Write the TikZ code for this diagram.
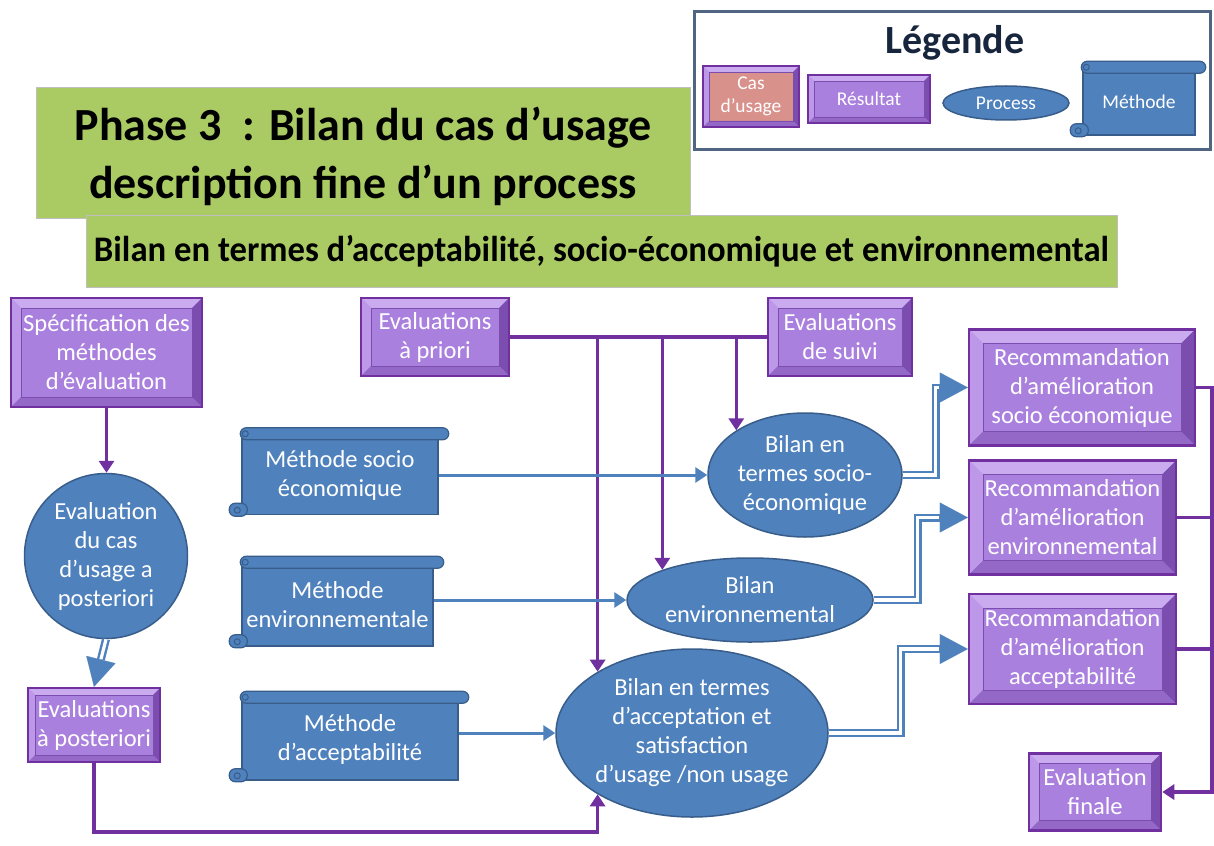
\documentclass[tikz,border=0pt]{standalone}
\usepackage{fontspec}
\setmainfont{Carlito}
\usepackage{graphicx}
\usetikzlibrary{arrows.meta,calc,shapes.geometric}

\definecolor{purpD}{HTML}{7030A0}
\definecolor{purpF}{HTML}{AA80DE}
\definecolor{purpT}{HTML}{CBABEF}
\definecolor{purpL}{HTML}{BD98E8}
\definecolor{purpR}{HTML}{7B4DAF}
\definecolor{purpB}{HTML}{9468C6}
\definecolor{salmonF}{HTML}{D9918C}
\definecolor{blueF}{HTML}{4F81BD}
\definecolor{blueD}{HTML}{385D8A}
\definecolor{greenF}{HTML}{AACB63}
\definecolor{legBorder}{HTML}{4F6581}
\definecolor{navy}{HTML}{17263D}

\newcommand\bodyfont{\fontsize{24.5}{29}\selectfont}
\newcommand\legfont{\fontsize{19.5}{23}\selectfont}

% rolled ends of a "method" scroll
\newcommand\scrollparts[1]{%
  \draw[scrollroll] ($(#1.north west)+(-1,-7)$) rectangle ($(#1.north east)+(10,5)$);
  \draw[blueD, line width=1pt] ($(#1.north west)+(4,-1)$) circle[radius=3];
  \draw[scrollroll] ($(#1.south west)+(-12,-12)$) rectangle ($(#1.south west)+(6,1)$);
  \draw[blueD, line width=1pt] ($(#1.south west)+(-4,-5)$) circle[radius=3];
}

\tikzset{
  bev/.code={\def\bevw{#1}},
  resbox/.style={rectangle, draw=purpD, line width=2.5pt, fill=purpF,
    text=white, align=center, font=\bodyfont, inner sep=0pt, bev=10,
    path picture={
      \coordinate (bNW) at (path picture bounding box.north west);
      \coordinate (bSE) at (path picture bounding box.south east);
      \coordinate (bNE) at (bSE|-bNW);
      \coordinate (bSW) at (bNW|-bSE);
      \fill[purpT] (bNW) -- (bNE) -- ($(bNE)+(-\bevw,\bevw)$) -- ($(bNW)+(\bevw,\bevw)$) -- cycle;
      \fill[purpL] (bNW) -- ($(bNW)+(\bevw,\bevw)$) -- ($(bSW)+(\bevw,-\bevw)$) -- (bSW) -- cycle;
      \fill[purpR] (bNE) -- ($(bNE)+(-\bevw,\bevw)$) -- ($(bSE)+(-\bevw,-\bevw)$) -- (bSE) -- cycle;
      \fill[purpB] (bSW) -- ($(bSW)+(\bevw,-\bevw)$) -- ($(bSE)+(-\bevw,-\bevw)$) -- (bSE) -- cycle;
      \draw[purpR, line width=0.8pt] ($(bNW)+(\bevw,\bevw)$) rectangle ($(bSE)+(-\bevw,-\bevw)$);
    }},
  proc/.style={ellipse, fill=blueF, draw=blueD, line width=1.5pt, inner sep=0pt},
  ptext/.style={text=white, align=center, font=\bodyfont},
  method/.style={rectangle, fill=blueF, draw=blueD, line width=1.5pt,
    text=white, align=center, font=\bodyfont, inner sep=0pt},
  scrollroll/.style={fill=blueF, draw=blueD, line width=1.2pt, rounded corners=6pt},
  greenbox/.style={rectangle, fill=greenF, draw=black!25, line width=1pt, inner sep=0pt},
  purpln/.style={draw=purpD, line width=3.5pt},
  purparr/.style={purpln, -{Triangle[length=12pt,width=15pt]}},
  bluearr/.style={draw=blueF, line width=3pt, -{Triangle[length=12pt,width=15pt]}},
  dblout/.style={draw=blueF, line width=8pt, -{Triangle[length=28pt,width=30pt,line width=0.1pt]}},
  dblin/.style={draw=white, line width=3.2pt, shorten >=28.5pt},
}

\begin{document}
\begin{tikzpicture}[x=1pt, y=-1pt]
\fill[white] (0,0) rectangle (1214,845);
\useasboundingbox (0,0) rectangle (1214,845);

% ---- headings
\node[greenbox, minimum width=654, minimum height=130] (ttl) at (363,153) {};
\node[align=center, font=\bfseries\fontsize{46}{58}\selectfont] (ttltxt) at (363,156)
  {Phase 3~ : Bilan du cas d’usage\\description fine d’un process};
\node[greenbox, minimum width=1031, minimum height=72, font=\bfseries\fontsize{36}{40}\selectfont] (sub) at (601.5,251)
  {\resizebox{1015pt}{\height}{Bilan en termes d’acceptabilité, socio-économique et environnemental}};

% ---- legend
\node[draw=legBorder, line width=3pt, minimum width=516, minimum height=138, inner sep=0pt] (legbox) at (952.5,80.5) {};
\node[font=\bfseries\fontsize{40}{48}\selectfont, text=navy] (legt) at (955,43) {Légende};
\node[resbox, fill=salmonF, bev=6, minimum width=96, minimum height=61, font=\legfont] (lcas) at (751,96.5) {Cas\\d’usage};
\node[resbox, bev=6, minimum width=122, minimum height=48, font=\legfont] (lres) at (869,99) {Résultat};
\node[proc, minimum width=126, minimum height=34, label={[ptext, font=\legfont]center:Process}] (lproc) at (1006,103) {};
\node[method, minimum width=112, minimum height=66, font=\legfont] (lmeth) at (1139,102) {Méthode};
\scrollparts{lmeth}

% ---- results
\node[resbox, minimum width=191, minimum height=109] (spec) at (106.5,352.5) {Spécification des\\méthodes\\d’évaluation};
\node[resbox, minimum width=148, minimum height=78] (apri) at (435,337) {Evaluations\\à priori};
\node[resbox, minimum width=144, minimum height=78] (suiv) at (840,337) {Evaluations\\de suivi};
\node[resbox, bev=14, minimum width=226, minimum height=116] (rsoc) at (1082,387.5) {Recommandation\\d’amélioration\\socio économique};
\node[resbox, bev=14, minimum width=207, minimum height=114] (renv) at (1072.5,517.5) {Recommandation\\d’amélioration\\environnemental};
\node[resbox, bev=14, minimum width=207, minimum height=110] (racc) at (1072.5,649) {Recommandation\\d’amélioration\\acceptabilité};
\node[resbox, minimum width=132, minimum height=77] (fin) at (1095,792) {Evaluation\\finale};
\node[resbox, bev=7, minimum width=132, minimum height=74] (post) at (94,725) {Evaluations\\à posteriori};

% ---- processes
\node[proc, minimum width=163, minimum height=165,
  label={[ptext]center:Evaluation\\du cas\\d’usage a\\posteriori}] (circ) at (106,556) {};
\node[proc, minimum width=194, minimum height=124,
  label={[ptext]center:Bilan en\\termes socio-\\économique}] (bsoc) at (805,475) {};
\node[proc, minimum width=246, minimum height=84,
  label={[ptext]center:Bilan\\environnemental}] (benv) at (750,600) {};
\node[proc, minimum width=272, minimum height=168,
  label={[ptext]center:Bilan en termes\\d’acceptation et\\satisfaction\\d’usage /non usage}] (bacc) at (692,733) {};

% ---- methods
\node[method, minimum width=196, minimum height=79] (ms) at (340,475) {Méthode socio\\économique};
\node[method, minimum width=191, minimum height=82] (me) at (337.5,605) {Méthode\\environnementale};
\node[method, minimum width=216, minimum height=81] (ma) at (350,739.5) {Méthode\\d’acceptabilité};
\scrollparts{ms}
\scrollparts{me}
\scrollparts{ma}

% ---- purple connectors
\draw[purparr] (spec.south) -- (spec.south |- circ.north);
\coordinate (railbot) at (bacc.213 |- 0,832);
\draw[purparr] (post.south) |- (railbot) -- (bacc.213);
\draw[purpln] (apri.east) -- (suiv.west);
\draw[purparr] (apri.east -| bacc.147) -- (bacc.147);
\draw[purparr] (apri.east -| benv.161) -- (benv.161);
\draw[purparr] (apri.east -| bsoc.147) -- (bsoc.147);
\coordinate (railfin) at (fin.east -| 1212,0);
\draw[purpln] (renv.east) -- (renv.east -| railfin);
\draw[purpln] (racc.east) -- (racc.east -| railfin);
\draw[purparr] (rsoc.east) -| (railfin) -- (fin.east);

% ---- blue connectors
\draw[bluearr] (ms.east |- bsoc.west) -- (bsoc.west);
\draw[bluearr] (me.east |- benv.west) -- (benv.west);
\draw[bluearr] (ma.east |- bacc.west) -- (bacc.west);

\draw[dblout] (circ.south) -- (post.north);
\draw[dblin]  (circ.south) -- (post.north);
\draw[dblout] (bsoc.east) -- ++(33,0) |- (rsoc.west);
\draw[dblin]  (bsoc.east) -- ++(33,0) |- (rsoc.west);
\draw[dblout] (benv.east) -- ++(44,0) |- (renv.west);
\draw[dblin]  (benv.east) -- ++(44,0) |- (renv.west);
\draw[dblout] (bacc.east) -- ++(72,0) |- (racc.west);
\draw[dblin]  (bacc.east) -- ++(72,0) |- (racc.west);
\end{tikzpicture}
\end{document}
